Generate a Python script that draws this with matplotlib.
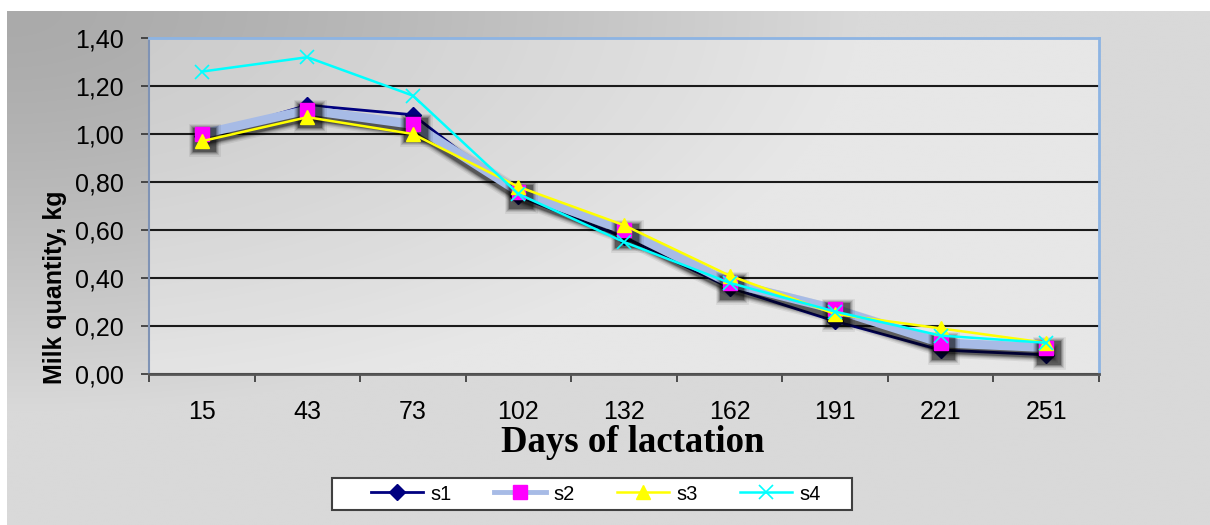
import numpy as np
import matplotlib
matplotlib.use("Agg")
import matplotlib.pyplot as plt
from matplotlib import patheffects as pe
from matplotlib.lines import Line2D
from matplotlib.patches import Rectangle

# Daily milk yield per group over the lactation period
days = ["15", "43", "73", "102", "132", "162", "191", "221", "251"]
s1 = [0.99, 1.12, 1.08, 0.74, 0.57, 0.36, 0.22, 0.10, 0.08]
s2 = [1.00, 1.10, 1.04, 0.76, 0.60, 0.38, 0.27, 0.13, 0.11]
s3 = [0.97, 1.07, 1.00, 0.78, 0.62, 0.41, 0.25, 0.19, 0.13]
s4 = [1.26, 1.32, 1.16, 0.75, 0.55, 0.38, 0.26, 0.16, 0.13]
series_names = ["s1", "s2", "s3", "s4"]

y_ticks = [0.0, 0.2, 0.4, 0.6, 0.8, 1.0, 1.2, 1.4]
y_tick_labels = ["0,00", "0,20", "0,40", "0,60", "0,80", "1,00", "1,20", "1,40"]

W, H = 1210, 525
fig = plt.figure(figsize=(W / 100, H / 100), dpi=100)
fig.patch.set_facecolor("white")

# Grey chart-area fill, darker toward the upper-left corner
bg = fig.add_axes([7 / W, 0, 1 - 7 / W, (H - 11) / H], zorder=-2)
gx = np.linspace(0, W - 7, 600)
gy = np.linspace(0, H - 11, 300)
GX, GY = np.meshgrid(gx, gy)
r = np.clip(np.sqrt((GX / 850.0) ** 2 + (GY / 400.0) ** 2), 0, 1)
val = (170 + 47 * r ** 1.4) / 255.0
bg.imshow(np.dstack([val, val, val]), aspect="auto", extent=[0, 1, 0, 1],
          origin="upper", interpolation="bilinear")
bg.set_xlim(0, 1)
bg.set_ylim(0, 1)
bg.axis("off")

# Plot area
ax = fig.add_axes([149 / W, (H - 374) / H, (1099 - 149) / W, (374 - 38) / H])
ax.set_facecolor((1, 1, 1, 0.38))

x = np.arange(len(days))


def soft_shadow(lw):
    effects = []
    for extra, a in [(7, 0.07), (5, 0.1), (3.5, 0.14), (2, 0.2), (0.8, 0.3)]:
        effects.append(pe.SimpleLineShadow(offset=(2.0, -4.0), shadow_color="black",
                                           alpha=a, linewidth=lw + extra))
    effects.append(pe.Normal())
    return effects


styles = [
    dict(color="#000080", lw=2.0, marker="D", ms=8, mfc="#000080", mec="#000080", mew=1),
    dict(color="#a7bbe6", lw=6.5, marker="s", ms=10, mfc="#ff00ff", mec="#ff00ff", mew=1),
    dict(color="#ffff00", lw=1.8, marker="^", ms=10, mfc="#ffff00", mec="#ffff00", mew=1),
    dict(color="#00ffff", lw=1.8, marker="x", ms=10, mfc="#00ffff", mec="#00ffff", mew=1.2),
]

for i, (vals, st) in enumerate(zip([s1, s2, s3, s4], styles)):
    effects = soft_shadow(st["lw"]) if i == 1 else None
    ax.plot(x, vals, color=st["color"], lw=st["lw"], marker=st["marker"],
            ms=st["ms"], mfc=st["mfc"], mec=st["mec"], mew=st["mew"],
            zorder=3 + i, path_effects=effects, solid_joinstyle="miter")

ax.set_xlim(-0.5, len(days) - 0.5)
ax.set_ylim(0, 1.4)

ax.set_yticks(y_ticks)
ax.set_yticklabels(y_tick_labels, fontsize=18, family="Liberation Sans")
ax.yaxis.grid(True, color="#1a1a1a", lw=1.5)
ax.set_axisbelow(True)
ax.tick_params(axis="y", direction="out", length=6, width=1.2, color="#333333", pad=12)

ax.set_xticks(x)
ax.set_xticklabels(days, fontsize=18, family="Liberation Sans")
ax.set_xticks(np.arange(-0.5, len(days)), minor=True)
ax.tick_params(axis="x", which="major", length=0, pad=19)
ax.tick_params(axis="x", which="minor", direction="out", length=6, width=1.2, color="#333333")

ax.spines["left"].set_color("#7f93b5")
ax.spines["left"].set_linewidth(1.5)
ax.spines["bottom"].set_color("#555555")
ax.spines["bottom"].set_linewidth(2)
for side in ("top", "right"):
    ax.spines[side].set_color("#8db4e3")
    ax.spines[side].set_linewidth(2)

fig.text(55 / W, 1 - 287 / H, "Milk quantity, kg", rotation=90, ha="center", va="center",
         fontsize=18, fontweight="bold", family="Liberation Sans")
fig.text(633 / W, 1 - 442 / H, "Days of lactation", ha="center", va="center",
         fontsize=26.5, fontweight="bold", family="Liberation Serif")

# Legend box and entries
fig.add_artist(Rectangle((332 / W, 1 - 510 / H), (852 - 332) / W, 32 / H,
                         transform=fig.transFigure, facecolor="white",
                         edgecolor="#404040", lw=1.5, zorder=5))
handles = [Line2D([], [], color=st["color"], lw=min(st["lw"], 3.5), marker=st["marker"],
                  ms=st["ms"], mfc=st["mfc"], mec=st["mec"], mew=st["mew"])
           for st in styles]
leg = fig.legend(handles, series_names, loc="center", bbox_to_anchor=(596 / W, 1 - 494 / H),
                 ncol=4, frameon=False, prop={"family": "Liberation Sans", "size": 14.5},
                 handlelength=2.6, handletextpad=0.35, columnspacing=2.1,
                 borderpad=0.0, borderaxespad=0)
leg.set_zorder(6)

fig.savefig("out.png", dpi=100)
